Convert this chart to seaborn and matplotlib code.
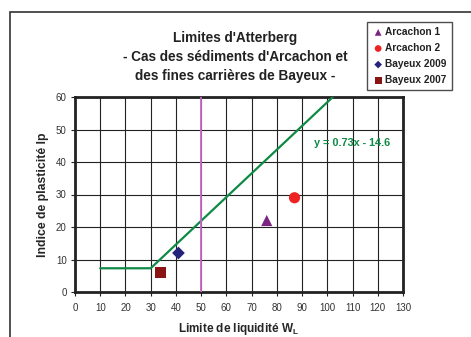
import matplotlib
matplotlib.use('Agg')
import matplotlib.pyplot as plt
import pandas as pd
import seaborn as sns
from matplotlib.patches import Rectangle

sns.set_style('white')
plt.rcParams['font.family'] = ['Liberation Sans', 'DejaVu Sans']

# points (limite de liquidité, indice de plasticité)
series = ['Arcachon 1', 'Arcachon 2', 'Bayeux 2009', 'Bayeux 2007']
wl = [76, 87, 41, 34]
ip = [22, 29, 12, 6]

# ligne A : palier puis y = 0.73x - 14.6
ligne_x = [10, 30, 102.2]
ligne_y = [7.3, 7.3, 60]
wl_limite = 50

couleurs = {'Arcachon 1': '#7B2582', 'Arcachon 2': '#EE2222',
            'Bayeux 2009': '#23237A', 'Bayeux 2007': '#8A1414'}
marqueurs = {'Arcachon 1': '^', 'Arcachon 2': 'o',
             'Bayeux 2009': 'D', 'Bayeux 2007': 's'}

df = pd.DataFrame({'serie': series, 'WL': wl, 'Ip': ip})
df_ligne = pd.DataFrame({'x': ligne_x, 'y': ligne_y})

fig = plt.figure(figsize=(4.71, 3.37), dpi=100)
fig.patch.set_facecolor('white')
fig.patches.append(Rectangle((10 / 471, -0.1), 1.2, 1.1 - 12 / 337, transform=fig.transFigure,
                             fill=False, edgecolor='#333333', linewidth=1.2))

ax = fig.add_axes([75 / 471, 1 - 292 / 337, 328 / 471, 195 / 337])

sns.lineplot(data=df_ligne, x='x', y='y', color='#0E8A45', linewidth=1.6, ax=ax, zorder=3)
ax.axvline(wl_limite, color='#C865C8', linewidth=1.3, zorder=3)

for s in series:
    sub = df[df['serie'] == s]
    sns.scatterplot(data=sub, x='WL', y='Ip', marker=marqueurs[s], color=couleurs[s],
                    s=65 if marqueurs[s] != 'D' else 42, edgecolor='none', label=s, ax=ax, zorder=4)

ax.set_xlim(0, 130)
ax.set_ylim(0, 60)
ax.set_xticks(range(0, 131, 10))
ax.set_yticks(range(0, 61, 10))
ax.grid(True, color='#222222', linewidth=0.8)
ax.set_axisbelow(True)
for sp in ax.spines.values():
    sp.set_color('#222222')
    sp.set_linewidth(2)
ax.tick_params(axis='both', direction='out', length=3, width=0.8, colors='#222222',
               labelsize=7, labelcolor='#333333', bottom=True, left=True)
ax.tick_params(axis='x', pad=5)
ax.tick_params(axis='y', pad=3)

ax.set_xlabel('Limite de liquidité W$_\\mathregular{L}$', fontsize=8.5, fontweight='bold', labelpad=6)
ax.set_ylabel('Indice de plasticité Ip', fontsize=8.8, fontweight='bold', labelpad=5)

ax.text(110, 46, 'y = 0.73x - 14.6', color='#0E8A45', fontsize=7.8, fontweight='bold',
        ha='center', va='center')

fig.text(235 / 471, 1 - 57 / 337,
         "Limites d'Atterberg\n- Cas des sédiments d'Arcachon et\ndes fines carrières de Bayeux -",
         ha='center', va='center', fontsize=9.8, fontweight='bold', color='#222222', linespacing=1.47)

leg = ax.legend(loc='upper left', bbox_to_anchor=(367 / 471, 1 - 22 / 337), bbox_transform=fig.transFigure,
                frameon=True, fancybox=False, fontsize=7.3, handletextpad=0.1, borderpad=0.5,
                labelspacing=0.6, markerscale=0.6, handlelength=1.2, borderaxespad=0)
leg.get_frame().set_edgecolor('#222222')
leg.get_frame().set_linewidth(1.0)
for t in leg.get_texts():
    t.set_fontweight('bold')
    t.set_color('#222222')

fig.savefig('out.png', dpi=100)
